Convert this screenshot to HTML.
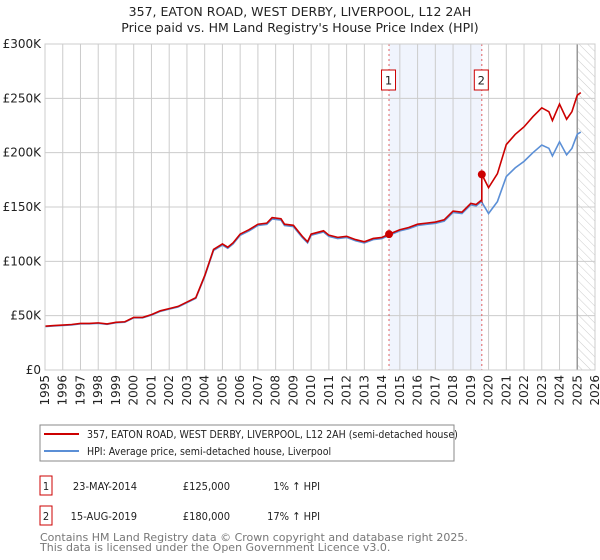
<!DOCTYPE html>
<html><head><meta charset="utf-8"><style>
body{margin:0;background:#fff;font-family:"Liberation Sans","DejaVu Sans",sans-serif;}
#wrap{position:relative;width:600px;height:560px;overflow:hidden}
</style></head><body>
<div id="wrap">
<svg id="chart" width="600" height="560" xmlns="http://www.w3.org/2000/svg" font-family="DejaVu Sans, Liberation Sans, sans-serif"></svg>
</div>
<script>
const yearTicks=[1995,1996,1997,1998,1999,2000,2001,2002,2003,2004,2005,2006,2007,2008,2009,2010,2011,2012,2013,2014,2015,2016,2017,2018,2019,2020,2021,2022,2023,2024,2025,2026];
const valueTicks=[0,50,100,150,200,250,300];
const valueTickLabels=["£0","£50K","£100K","£150K","£200K","£250K","£300K"];
const hpiDates=[1995,1995.5,1996,1996.5,1997,1997.5,1998,1998.5,1999,1999.5,2000,2000.5,2001,2001.5,2002,2002.5,2003,2003.5,2004,2004.5,2005,2005.3,2005.6,2006,2006.5,2007,2007.5,2007.8,2008.3,2008.5,2009,2009.5,2009.8,2010,2010.7,2011,2011.5,2012,2012.5,2013,2013.5,2014,2014.4,2015,2015.5,2016,2016.5,2017,2017.5,2018,2018.5,2019,2019.3,2019.6,2020,2020.5,2021,2021.5,2022,2022.5,2023,2023.4,2023.6,2024,2024.4,2024.7,2025,2025.2];
const hpiValues=[40,40.5,41,41.5,42.5,42.5,43,42,43.5,44,48,48,50.5,54,56,58,62,66,86,110,115,112,116,124,128,133,134,139,138,133,132,122,117,124,127,123,121,122,119,117,120,121,124,128,130,133,134,135,137,145,144,152,151,155,144,155,178,186,192,200,207,204,197,210,198,204,217,219];
const saleDates=[2014.39,2019.62];
const salePrices=[125,180];
const saleLabels=["1","2"];
const svg=document.getElementById('chart');const NS="http://www.w3.org/2000/svg";
const X0=45,X1=595,Y0=370,Y1=44;
const xs=d=>X0+(d-1995)/(2026-1995)*(X1-X0);
const ys=v=>Y0-v/300*(Y0-Y1);
function mk(t,a,p){const e=document.createElementNS(NS,t);for(const k in a)e.setAttribute(k,a[k]);(p||svg).appendChild(e);return e;}
function hpiAt(d){for(let i=0;i<hpiDates.length-1;i++){if(d<=hpiDates[i+1]){const f=(d-hpiDates[i])/(hpiDates[i+1]-hpiDates[i]);return hpiValues[i]+f*(hpiValues[i+1]-hpiValues[i]);}}return hpiValues[hpiValues.length-1];}
let e;
e=mk('text',{x:300,y:16,'text-anchor':'middle','font-size':12.5,fill:'#222'});e.textContent="357, EATON ROAD, WEST DERBY, LIVERPOOL, L12 2AH";

e=mk('text',{x:300,y:32,'text-anchor':'middle','font-size':12.5,fill:'#222'});e.textContent="Price paid vs. HM Land Registry's House Price Index (HPI)";

// shaded region
e=mk('rect',{x:xs(saleDates[0]),y:Y1,width:xs(saleDates[1])-xs(saleDates[0]),height:Y0-Y1,fill:'#f0f4fd'});

// hatch
const defs=mk('defs',{});const pat=mk('pattern',{id:'hatch',width:6,height:6,patternUnits:'userSpaceOnUse',patternTransform:'rotate(-45)'},defs);
mk('line',{x1:0,y1:0,x2:0,y2:6,stroke:'#ccc','stroke-width':1},pat);
e=mk('rect',{x:xs(2025),y:Y1,width:X1-xs(2025),height:Y0-Y1,fill:'url(#hatch)'});

// grid
yearTicks.forEach(y=>{e=mk('line',{x1:xs(y),x2:xs(y),y1:Y1,y2:Y0,stroke:'#ccc','stroke-width':1});

e=mk('text',{transform:`translate(${xs(y)+4},${Y0+5}) rotate(-90)`,'text-anchor':'end','font-size':12,fill:'#222'});e.textContent=y;
});
valueTicks.forEach((v,i)=>{e=mk('line',{x1:X0,x2:X1,y1:ys(v),y2:ys(v),stroke:'#ccc','stroke-width':1});

e=mk('text',{x:X0-4,y:ys(v)+4,'text-anchor':'end','font-size':12,fill:'#222'});e.textContent=valueTickLabels[i];
});
e=mk('line',{x1:xs(2025),x2:xs(2025),y1:Y1,y2:Y0,stroke:'#999','stroke-width':1.5});

// sale vlines
saleDates.forEach((d,i)=>{e=mk('line',{x1:xs(d),x2:xs(d),y1:Y1,y2:Y0,stroke:'#e06060','stroke-width':1,'stroke-dasharray':'2,3'});
});
// HPI line
let pts=hpiDates.map((d,i)=>xs(d)+','+ys(hpiValues[i])).join(' ');
e=mk('polyline',{points:pts,fill:'none',stroke:'#5b8fd6','stroke-width':1.6});

// price line
const r1=salePrices[0]/hpiAt(saleDates[0]),r2=salePrices[1]/hpiAt(saleDates[1]);
let rp=[];hpiDates.forEach((d,i)=>{if(d<saleDates[1])rp.push([d,hpiValues[i]*r1]);});
rp.push([saleDates[1],hpiAt(saleDates[1])*r1]);rp.push([saleDates[1],salePrices[1]]);
hpiDates.forEach((d,i)=>{if(d>saleDates[1])rp.push([d,hpiValues[i]*r2]);});
e=mk('polyline',{points:rp.map(p=>xs(p[0])+','+ys(p[1])).join(' '),fill:'none',stroke:'#cc0000','stroke-width':1.6});

saleDates.forEach((d,i)=>{e=mk('circle',{cx:xs(d),cy:ys(salePrices[i]),r:4,fill:'#cc0000'});

e=mk('rect',{x:xs(d)-7.5,y:70,width:14,height:20,fill:'#fff',stroke:'#cc0000'});

e=mk('text',{x:xs(d)-0.5,y:84.5,'text-anchor':'middle','font-size':11.5,fill:'#222'});e.textContent=saleLabels[i];
});
e=mk('rect',{x:X0,y:Y1,width:X1-X0,height:Y0-Y1,fill:'none',stroke:'#ccc'});

// legend
e=mk('rect',{x:40,y:425,width:414,height:36,fill:'#fff',stroke:'#888'});

e=mk('line',{x1:44,x2:79,y1:434,y2:434,stroke:'#cc0000','stroke-width':2});

e=mk('text',{x:87,y:438,'font-size':10.5,fill:'#222','font-family':'DejaVu Sans Condensed, DejaVu Sans, sans-serif'});e.textContent="357, EATON ROAD, WEST DERBY, LIVERPOOL, L12 2AH (semi-detached house)";

e=mk('line',{x1:44,x2:79,y1:451,y2:451,stroke:'#5b8fd6','stroke-width':2});

e=mk('text',{x:87,y:455,'font-size':10.5,fill:'#222','font-family':'DejaVu Sans Condensed, DejaVu Sans, sans-serif'});e.textContent="HPI: Average price, semi-detached house, Liverpool";

// table
const rows=[["1","23-MAY-2014","£125,000","1% ↑ HPI"],["2","15-AUG-2019","£180,000","17% ↑ HPI"]];
rows.forEach((r,i)=>{const y=476+i*30;
e=mk('rect',{x:40,y:y,width:12,height:19,fill:'#fff',stroke:'#cc0000'});

const tx=[[46,'middle'],[137,'end'],[230,'end'],[320,'end']];
r.forEach((c,j)=>{e=mk('text',{x:tx[j][0],y:y+14,'text-anchor':tx[j][1],'font-size':11,fill:'#222','font-family':'DejaVu Sans Condensed, DejaVu Sans, sans-serif'});e.textContent=c;
});});
e=mk('text',{x:40,y:541,'font-size':11,fill:'#777'});e.textContent="Contains HM Land Registry data © Crown copyright and database right 2025.";

e=mk('text',{x:40,y:551,'font-size':11,fill:'#777'});e.textContent="This data is licensed under the Open Government Licence v3.0.";

</script>
</body></html>
